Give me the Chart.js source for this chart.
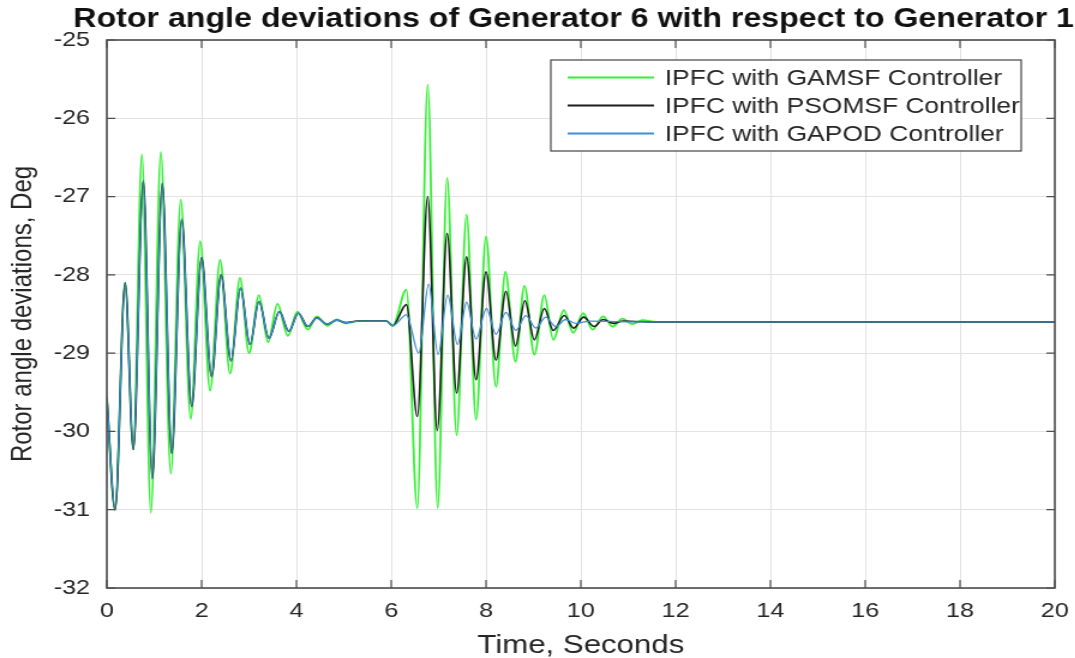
<!DOCTYPE html>
<html>
<head>
<meta charset="utf-8">
<script src="https://cdn.jsdelivr.net/npm/chart.js@4.4.1/dist/chart.umd.min.js"></script>
<style>
    html, body { margin: 0; padding: 0; background: #fff; overflow: hidden; }
    /* the reference is stretched sideways, so the chart is drawn narrow and widened */
    #rotorChart { position: absolute; left: 0; top: 0; transform: scaleX(1.2); transform-origin: 0 0; }
</style>
</head>
<body>
<canvas id="rotorChart" width="896" height="658"></canvas>
<script>
// Rotor angle deviations (deg) at the turning points
const chartTitle = 'Rotor angle deviations of Generator 6 with respect to Generator 1';

const gamsfTime = [0, 0.175, 0.386, 0.56, 0.74, 0.93, 1.14, 1.35, 1.56, 1.77, 1.97, 2.18, 2.39, 2.6, 2.81,
    3.0, 3.21, 3.4, 3.6, 3.82, 4.02, 4.24, 4.43, 4.65, 4.85, 5.05, 5.3, 5.9, 6.03, 6.32,
    6.55, 6.77, 6.98, 7.18, 7.38, 7.59, 7.79, 8.0, 8.21, 8.41, 8.62, 8.81, 9.02, 9.23, 9.42,
    9.64, 9.84, 10.05, 10.25, 10.47, 10.67, 10.88, 11.08, 11.3, 11.6, 20];
const gamsfAngle = [-29.57, -31.0, -28.1, -30.23, -26.46, -31.04, -26.43, -30.54, -27.04, -29.84, -27.57, -29.48, -27.81, -29.26, -28.04,
    -29.0, -28.26, -28.86, -28.37, -28.78, -28.47, -28.7, -28.53, -28.65, -28.57, -28.62, -28.59, -28.59, -28.65, -28.19,
    -30.98, -25.57, -30.98, -26.76, -30.05, -27.23, -29.85, -27.51, -29.43, -27.96, -29.11, -28.14, -29.02, -28.26, -28.83,
    -28.45, -28.74, -28.49, -28.7, -28.53, -28.66, -28.56, -28.63, -28.58, -28.6, -28.6];

const psomsfTime = [0, 0.175, 0.386, 0.56, 0.77, 0.96, 1.17, 1.37, 1.58, 1.79, 2.0, 2.21, 2.41, 2.62, 2.82,
    3.02, 3.21, 3.42, 3.64, 3.84, 4.04, 4.24, 4.43, 4.65, 4.85, 5.05, 5.3, 5.9, 6.03, 6.32,
    6.55, 6.77, 6.97, 7.18, 7.38, 7.59, 7.79, 8.0, 8.21, 8.42, 8.62, 8.82, 9.02, 9.23, 9.42,
    9.65, 9.85, 10.06, 10.28, 10.47, 10.68, 10.9, 11.4, 20];
const psomsfAngle = [-29.57, -31.0, -28.1, -30.23, -26.8, -30.6, -26.83, -30.28, -27.29, -29.68, -27.78, -29.3, -28.0, -29.1, -28.17,
    -28.89, -28.34, -28.81, -28.47, -28.72, -28.49, -28.66, -28.55, -28.63, -28.58, -28.61, -28.59, -28.59, -28.65, -28.38,
    -29.81, -27.0, -29.99, -27.47, -29.51, -27.77, -29.34, -27.96, -29.09, -28.21, -28.91, -28.33, -28.83, -28.43, -28.71,
    -28.52, -28.68, -28.54, -28.66, -28.57, -28.62, -28.59, -28.6, -28.6];

const gapodTime = [0, 0.175, 0.386, 0.56, 0.77, 0.96, 1.17, 1.37, 1.58, 1.79, 2.0, 2.21, 2.41, 2.62, 2.82,
    3.02, 3.21, 3.42, 3.64, 3.84, 4.04, 4.24, 4.43, 4.65, 4.85, 5.05, 5.3, 5.9, 6.03, 6.32,
    6.58, 6.79, 6.99, 7.19, 7.4, 7.59, 7.79, 8.01, 8.21, 8.42, 8.63, 8.84, 9.05, 9.26, 9.47,
    9.68, 9.9, 10.2, 11.0, 20];
const gapodAngle = [-29.57, -31.0, -28.1, -30.23, -26.8, -30.6, -26.83, -30.28, -27.29, -29.68, -27.78, -29.3, -28.0, -29.1, -28.17,
    -28.89, -28.34, -28.81, -28.47, -28.72, -28.49, -28.66, -28.55, -28.63, -28.58, -28.61, -28.59, -28.59, -28.65, -28.51,
    -29.0, -28.12, -29.02, -28.26, -28.89, -28.35, -28.82, -28.43, -28.76, -28.48, -28.71, -28.52, -28.68, -28.54, -28.66,
    -28.57, -28.62, -28.59, -28.6, -28.6];

const FONT = '"Liberation Sans", Arial, sans-serif';
const TEXT = '#262626';

function toPoints(times, values) {
    return times.map((t, i) => ({ x: t, y: values[i] }));
}

// title over the plot, MATLAB style
const titlePlugin = {
    id: 'plotTitle',
    afterDraw(chart) {
        const { ctx, chartArea } = chart;
        ctx.save();
        ctx.font = 'bold 26.8px ' + FONT;
        ctx.fillStyle = '#111';
        ctx.textAlign = 'center';
        ctx.textBaseline = 'alphabetic';
        ctx.fillText(chartTitle, (chartArea.left + chartArea.right) / 2 - 6, 27);
        ctx.restore();
    }
};

// axes box with inward ticks on all four sides
const framePlugin = {
    id: 'axesBox',
    afterDatasetsDraw(chart) {
        const { ctx, chartArea: a, scales } = chart;
        ctx.save();
        ctx.strokeStyle = '#4d4d4d';
        ctx.lineWidth = 1.2;
        ctx.beginPath();
        scales.x.ticks.forEach(t => {
            const px = scales.x.getPixelForValue(t.value);
            ctx.moveTo(px, a.bottom); ctx.lineTo(px, a.bottom - 8);
            ctx.moveTo(px, a.top); ctx.lineTo(px, a.top + 8);
        });
        scales.y.ticks.forEach(t => {
            const py = scales.y.getPixelForValue(t.value);
            ctx.moveTo(a.left, py); ctx.lineTo(a.left + 7, py);
            ctx.moveTo(a.right, py); ctx.lineTo(a.right - 7, py);
        });
        ctx.stroke();
        ctx.lineWidth = 1.6;
        ctx.strokeRect(a.left, a.top, a.right - a.left, a.bottom - a.top);
        ctx.restore();
    }
};

// boxed legend inside the top right of the plot
const legendPlugin = {
    id: 'insideLegend',
    afterDraw(chart) {
        const { ctx, chartArea: a } = chart;
        const boxRight = a.right - 28, boxTop = a.top + 20;
        const boxLeft = boxRight - 392, boxBottom = boxTop + 91;
        ctx.save();
        ctx.fillStyle = '#fff';
        ctx.fillRect(boxLeft, boxTop, boxRight - boxLeft, boxBottom - boxTop);
        ctx.strokeStyle = '#444';
        ctx.lineWidth = 1.2;
        ctx.strokeRect(boxLeft, boxTop, boxRight - boxLeft, boxBottom - boxTop);
        ctx.font = '22px ' + FONT;
        ctx.textBaseline = 'middle';
        ctx.textAlign = 'left';
        chart.data.datasets.forEach((ds, i) => {
            const y = boxTop + 17.5 + i * 28;
            ctx.strokeStyle = ds.borderColor;
            ctx.lineWidth = 2;
            ctx.beginPath();
            ctx.moveTo(boxLeft + 14, y);
            ctx.lineTo(boxLeft + 86, y);
            ctx.stroke();
            ctx.fillStyle = TEXT;
            ctx.fillText(ds.label, boxLeft + 95, y + 1);
        });
        ctx.restore();
    }
};

new Chart(document.getElementById('rotorChart'), {
    type: 'line',
    data: {
        datasets: [
            {
                label: 'IPFC with GAMSF Controller',
                data: toPoints(gamsfTime, gamsfAngle),
                borderColor: '#35ef35',
                borderWidth: 1.8,
                order: 3
            },
            {
                label: 'IPFC with PSOMSF Controller',
                data: toPoints(psomsfTime, psomsfAngle),
                borderColor: '#1c1c1c',
                borderWidth: 1.6,
                order: 2
            },
            {
                label: 'IPFC with GAPOD Controller',
                data: toPoints(gapodTime, gapodAngle),
                borderColor: '#3d8fd1',
                borderWidth: 1.3,
                order: 1
            }
        ]
    },
    options: {
        responsive: false,
        animation: false,
        events: [],
        elements: {
            point: { radius: 0 },
            line: { cubicInterpolationMode: 'monotone', fill: false }
        },
        layout: { padding: { top: 40, right: 17, left: 0, bottom: 0 } },
        plugins: {
            legend: { display: false },
            title: { display: false },
            tooltip: { enabled: false }
        },
        scales: {
            x: {
                type: 'linear',
                min: 0,
                max: 20,
                ticks: { stepSize: 2, color: TEXT, font: { family: FONT, size: 21 }, padding: 11, maxRotation: 0 },
                grid: { color: '#e2e2e2', lineWidth: 1, drawTicks: false },
                border: { display: false },
                title: { display: true, text: 'Time, Seconds', color: TEXT, font: { family: FONT, size: 26, lineHeight: 0.9 }, padding: { top: 0, bottom: 0 } },
                afterFit(scale) {
                    scale.height = 70;
                    scale.paddingLeft = 0;
                    scale.paddingRight = 0;
                }
            },
            y: {
                type: 'linear',
                min: -32,
                max: -25,
                ticks: { stepSize: 1, color: TEXT, font: { family: FONT, size: 21 }, padding: 14 },
                grid: { color: '#e2e2e2', lineWidth: 1, drawTicks: false },
                border: { display: false },
                title: { display: true, text: 'Rotor angle deviations, Deg', color: TEXT, font: { family: FONT, size: 24, lineHeight: 1.2 }, padding: { top: 5, bottom: 0 } },
                afterFit(scale) {
                    scale.width = 89;
                    scale.paddingTop = 0;
                    scale.paddingBottom = 0;
                }
            }
        }
    },
    plugins: [titlePlugin, framePlugin, legendPlugin]
});
</script>
</body>
</html>
